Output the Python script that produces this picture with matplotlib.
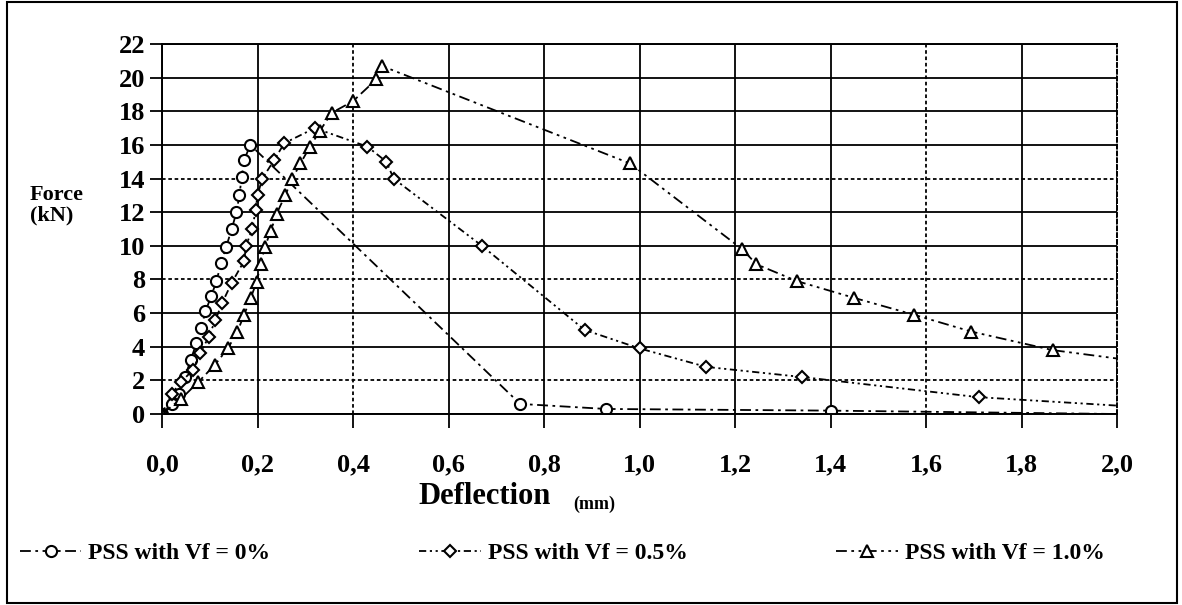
import matplotlib
matplotlib.use("Agg")
import matplotlib.pyplot as plt
from matplotlib.patches import Rectangle

plt.rcParams['font.family'] = ['Liberation Serif', 'DejaVu Serif']
plt.rcParams['font.weight'] = 'bold'

# PSS com Vf = 0% (circulos)
x0 = [0.0, 0.02, 0.035, 0.048, 0.06, 0.072, 0.082, 0.091, 0.103, 0.114, 0.124, 0.134,
      0.146, 0.156, 0.162, 0.167, 0.172, 0.185, 0.75, 0.93, 1.40, 2.0]
y0 = [0.0, 0.6, 1.2, 2.2, 3.2, 4.2, 5.1, 6.1, 7.0, 7.9, 9.0, 9.9,
      11.0, 12.0, 13.0, 14.1, 15.1, 16.0, 0.6, 0.3, 0.2, 0.0]
mk0 = list(range(21))  # o ultimo ponto (2,0) nao tem marcador

# PSS com Vf = 0.5% (losangos)
x05 = [0.0, 0.02, 0.04, 0.064, 0.08, 0.098, 0.112, 0.126, 0.146, 0.172, 0.176, 0.189,
       0.196, 0.20, 0.21, 0.235, 0.256, 0.32, 0.43, 0.47, 0.485, 0.67, 0.885, 1.0,
       1.14, 1.34, 1.71, 2.0]
y05 = [0.0, 1.2, 1.9, 2.6, 3.6, 4.6, 5.6, 6.6, 7.8, 9.1, 10.0, 11.0,
       12.1, 13.0, 14.0, 15.1, 16.1, 17.0, 15.9, 15.0, 14.0, 10.0, 5.0, 3.9,
       2.8, 2.2, 1.0, 0.5]
mk05 = list(range(27))

# PSS com Vf = 1.0% (triangulos)
x1 = [0.0, 0.04, 0.076, 0.11, 0.138, 0.158, 0.172, 0.186, 0.198, 0.207, 0.215, 0.228,
      0.24, 0.258, 0.273, 0.29, 0.31, 0.33, 0.355, 0.40, 0.449, 0.46, 0.98, 1.215,
      1.245, 1.33, 1.45, 1.575, 1.695, 1.865, 2.0]
y1 = [0.0, 0.9, 1.9, 2.9, 3.9, 4.9, 5.9, 6.9, 7.85, 8.9, 9.9, 10.9,
      11.9, 13.0, 14.0, 14.9, 15.9, 16.8, 17.9, 18.6, 19.9, 20.7, 14.9, 9.8,
      8.9, 7.9, 6.9, 5.9, 4.9, 3.8, 3.3]
mk1 = list(range(30))

legendas = ['PSS with Vf = 0%', 'PSS with Vf = 0.5%', 'PSS with Vf = 1.0%']
xticks = [0.0, 0.2, 0.4, 0.6, 0.8, 1.0, 1.2, 1.4, 1.6, 1.8, 2.0]
yticks = [0, 2, 4, 6, 8, 10, 12, 14, 16, 18, 20, 22]

fig = plt.figure(figsize=(11.82, 6.05), dpi=100)
ax = fig.add_axes([162/1182, 1 - 414/605, (1117-162)/1182, (414-44)/605])

estilo = dict(color='black', markerfacecolor='white', markeredgecolor='black',
              markeredgewidth=1.5, linewidth=1.3)
l0, = ax.plot(x0, y0, marker='o', markersize=8, markevery=mk0,
              linestyle=(0, (6, 2.5, 1.5, 2.5)), **estilo)
l05, = ax.plot(x05, y05, marker='D', markersize=6, markevery=mk05,
               linestyle=(0, (4, 2, 1.2, 2, 1.2, 2)), **estilo)
l1, = ax.plot(x1, y1, marker='^', markersize=8, markevery=mk1,
              linestyle=(0, (6, 2.5, 1.5, 2.5, 1.5, 2.5)), **estilo)

ax.set_xlim(0, 2.0)
ax.set_ylim(0, 22)
ax.set_xticks(xticks)
ax.set_xticklabels([('%.1f' % v).replace('.', ',') for v in xticks])
ax.set_yticks(yticks)
ax.set_yticklabels([str(v) for v in yticks])
ax.tick_params(axis='x', length=10, width=1.3, pad=18, labelsize=19)
ax.tick_params(axis='y', length=9, width=1.3, pad=3, labelsize=19)
for t in ax.get_xticklabels() + ax.get_yticklabels():
    t.set_fontweight('bold')

# grade: algumas linhas tracejadas, como no original
ax.grid(True, color='black', linewidth=1.3)
for v, g in zip(xticks, ax.get_xgridlines()):
    if v in (0.4, 1.6, 2.0):
        g.set_linestyle((0, (2, 1.5)))
for v, g in zip(yticks, ax.get_ygridlines()):
    if v in (2, 8, 14):
        g.set_linestyle((0, (2, 1.5)))
ax.set_axisbelow(True)
for s in ax.spines.values():
    s.set_linewidth(1.4)
ax.spines['right'].set_linestyle((0, (2, 1.5)))

fig.text(30/1182, 1 - 195/605, 'Force', fontsize=16, fontweight='bold', ha='left', va='center')
fig.text(30/1182, 1 - 215/605, '(kN)', fontsize=16, fontweight='bold', ha='left', va='center')
fig.text(418/1182, 1 - 496/605, 'Deflection', fontsize=22, fontweight='bold', ha='left', va='center')
fig.text(573/1182, 1 - 504/605, '(mm)', fontsize=13, fontweight='bold', ha='left', va='center')

fig.legend([l0, l05, l1], legendas, ncol=3, loc='center left',
           bbox_to_anchor=(20/1182, 1 - 553/605), frameon=False, fontsize=17,
           handlelength=2.6, handletextpad=0.3, columnspacing=6.3,
           borderaxespad=0, borderpad=0)

fig.add_artist(Rectangle((0.006, 0.004), 0.99, 0.992, transform=fig.transFigure,
                         fill=False, edgecolor='black', linewidth=1.5))

fig.savefig('out.png', dpi=100)
